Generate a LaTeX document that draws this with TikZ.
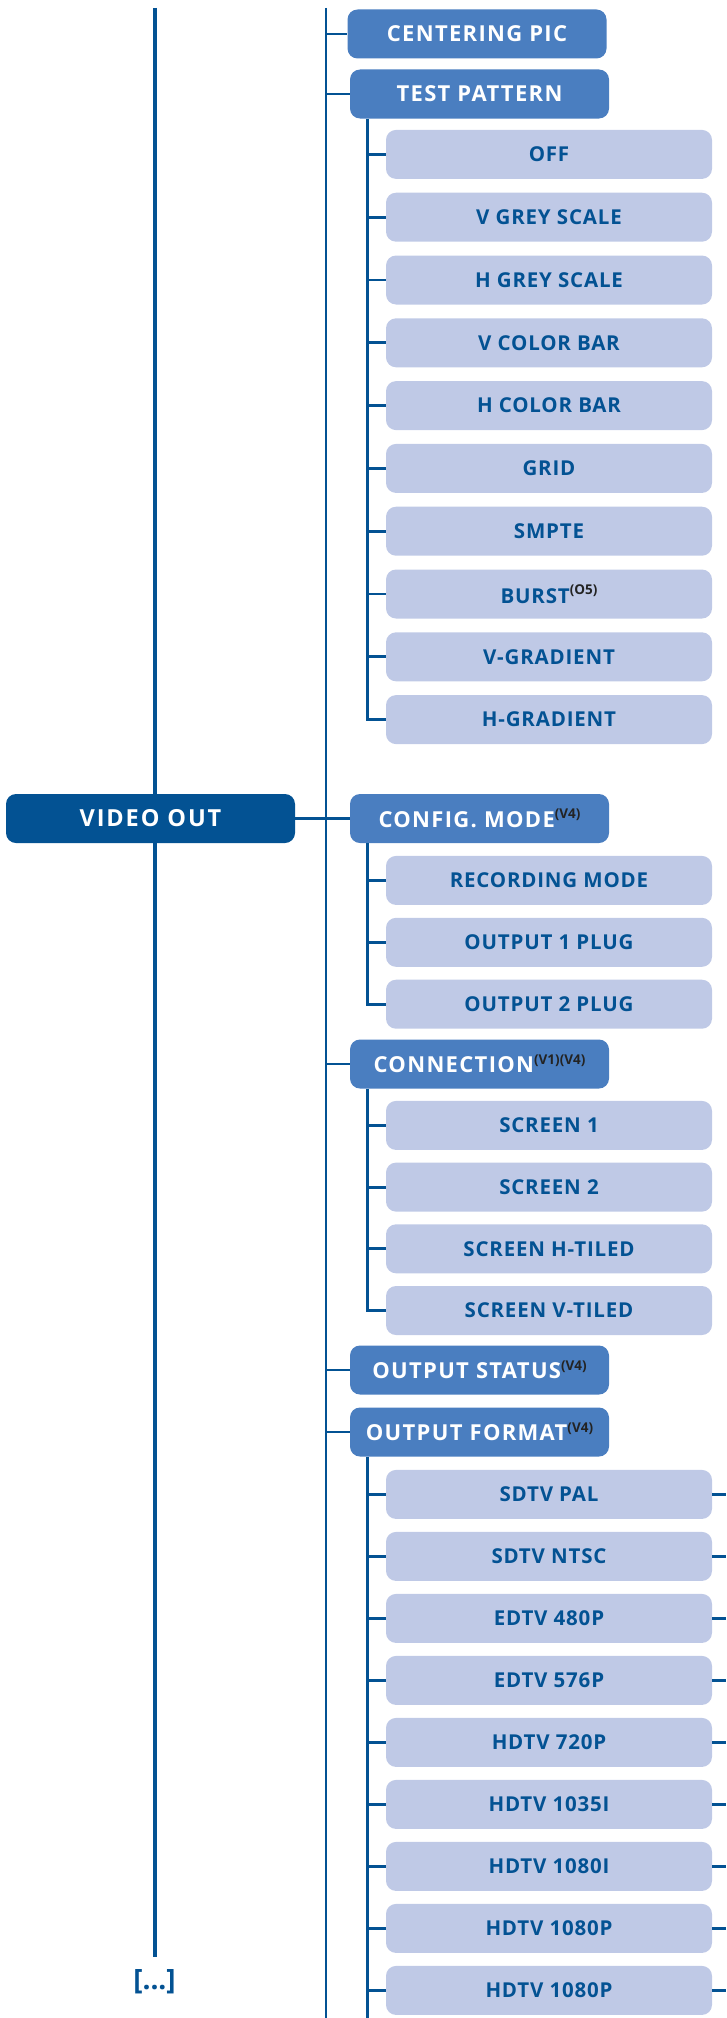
\documentclass[tikz,border=0pt]{standalone}
\usepackage{fontspec}
\setmainfont{Open Sans}
\newfontfamily\rootfont{Open Sans}[LetterSpace=8]
\newfontfamily\menufont{Open Sans}[LetterSpace=6]
\newfontfamily\optfont{Open Sans}[LetterSpace=4]
\usepackage{tikz}
\usetikzlibrary{positioning}
\definecolor{VideoBlue}{RGB}{3, 82, 147}
\definecolor{MenuBlue}{RGB}{74, 126, 192}
\definecolor{OptionBlue}{RGB}{191, 201, 230}
\definecolor{SupGrey}{RGB}{35, 35, 35}
\newcommand{\vsup}[1]{\raisebox{8.5pt}{\normalfont\bfseries\fontsize{13.5}{14}\selectfont\color{SupGrey}#1}}

\begin{document}
\begin{tikzpicture}[
    x=1pt, y=-1pt,
    rootbox/.style={rectangle, rounded corners=10pt, fill=VideoBlue, text=white,
                    minimum width=289pt, minimum height=49pt, inner sep=0pt,
                    font=\rootfont\bfseries\fontsize{23.5}{28}\selectfont},
    menubox/.style={rectangle, rounded corners=10pt, fill=MenuBlue, text=white,
                    minimum width=259pt, minimum height=49pt, inner sep=0pt,
                    font=\menufont\bfseries\fontsize{22}{26}\selectfont},
    optbox/.style={rectangle, rounded corners=10pt, fill=OptionBlue, text=VideoBlue,
                   minimum width=326pt, minimum height=49pt, inner sep=0pt,
                   font=\optfont\bfseries\fontsize{20.5}{24}\selectfont},
    trunk/.style={draw=VideoBlue, line width=4.5pt},
    link/.style={draw=VideoBlue, line width=2.8pt}
]
\useasboundingbox (0,0) rectangle (726,2018);

% Root
\node[rootbox] (videoout) at (150.5,818.5) {VIDEO OUT};
\coordinate (maintop) at (155,8);
\coordinate (mainbot) at (155,1957);
\node[text=VideoBlue, font=\bfseries\fontsize{28}{32}\selectfont] (more) at (154.5,1982) {[...]};

% Menu entries
\node[menubox] (centering) at (477,34) {CENTERING PIC};
\node[menubox] (testpat) at (479.5,94) {TEST PATTERN};
\node[menubox] (configmode) at (479.5,818.5) {CONFIG. MODE\vsup{(V4)}};
\node[menubox] (connection) at (479.5,1064) {CONNECTION\vsup{(V1)(V4)}};
\node[menubox] (outstatus) at (479.5,1370) {OUTPUT STATUS\vsup{(V4)}};
\node[menubox] (outformat) at (479.5,1432) {OUTPUT FORMAT\vsup{(V4)}};

% Test pattern options
\node[optbox, below=11pt of testpat.south west, anchor=north west, xshift=36pt] (off) {OFF};
\node[optbox, below=13.4pt of off] (vgrey) {V GREY SCALE};
\node[optbox, below=13.4pt of vgrey] (hgrey) {H GREY SCALE};
\node[optbox, below=13.4pt of hgrey] (vcolor) {V COLOR BAR};
\node[optbox, below=13.4pt of vcolor] (hcolor) {H COLOR BAR};
\node[optbox, below=13.4pt of hcolor] (grid) {GRID};
\node[optbox, below=13.4pt of grid] (smpte) {SMPTE};
\node[optbox, below=13.4pt of smpte] (burst) {BURST\vsup{(O5)}};
\node[optbox, below=13.4pt of burst] (vgrad) {V-GRADIENT};
\node[optbox, below=13.4pt of vgrad] (hgrad) {H-GRADIENT};

% Config mode options
\node[optbox, below=12.5pt of configmode.south west, anchor=north west, xshift=36pt] (recmode) {RECORDING MODE};
\node[optbox, below=12.5pt of recmode] (outplug1) {OUTPUT 1 PLUG};
\node[optbox, below=12.5pt of outplug1] (outplug2) {OUTPUT 2 PLUG};

% Connection options
\node[optbox, below=12pt of connection.south west, anchor=north west, xshift=36pt] (screen1) {SCREEN 1};
\node[optbox, below=12.3pt of screen1] (screen2) {SCREEN 2};
\node[optbox, below=12.3pt of screen2] (screenh) {SCREEN H-TILED};
\node[optbox, below=12.3pt of screenh] (screenv) {SCREEN V-TILED};

% Output format options
\node[optbox, below=13pt of outformat.south west, anchor=north west, xshift=36pt] (sdpal) {SDTV PAL};
\node[optbox, below=12.6pt of sdpal] (sdntsc) {SDTV NTSC};
\node[optbox, below=12.6pt of sdntsc] (ed480) {EDTV 480P};
\node[optbox, below=12.6pt of ed480] (ed576) {EDTV 576P};
\node[optbox, below=12.6pt of ed576] (hd720) {HDTV 720P};
\node[optbox, below=12.6pt of hd720] (hd1035) {HDTV 1035I};
\node[optbox, below=12.6pt of hd1035] (hd1080i) {HDTV 1080I};
\node[optbox, below=12.6pt of hd1080i] (hd1080p) {HDTV 1080P};
\node[optbox, below=12.6pt of hd1080p] (hd1080pb) {HDTV 1080P};

% Main line
\draw[trunk] (maintop) -- (maintop |- videoout.north);
\draw[trunk] (maintop |- videoout.south) -- (mainbot);

% Menu spine
\coordinate (spinetop) at (326,8);
\coordinate (spinebot) at (326,2018);
\draw[link] (spinetop) -- (spinebot);
\draw[link] (videoout) -- (configmode);
\draw[link] (spinetop |- centering) -- (centering);
\draw[link] (spinetop |- testpat) -- (testpat);
\draw[link] (spinetop |- connection) -- (connection);
\draw[link] (spinetop |- outstatus) -- (outstatus);
\draw[link] (spinetop |- outformat) -- (outformat);

% Test pattern branch
\draw[link] ([xshift=18pt]testpat.south west) coordinate (tpbranch) |- (hgrad);
\draw[link] (tpbranch |- off) -- (off);
\draw[link] (tpbranch |- vgrey) -- (vgrey);
\draw[link] (tpbranch |- hgrey) -- (hgrey);
\draw[link] (tpbranch |- vcolor) -- (vcolor);
\draw[link] (tpbranch |- hcolor) -- (hcolor);
\draw[link] (tpbranch |- grid) -- (grid);
\draw[link] (tpbranch |- smpte) -- (smpte);
\draw[link] (tpbranch |- burst) -- (burst);
\draw[link] (tpbranch |- vgrad) -- (vgrad);

% Config mode branch
\draw[link] ([xshift=18pt]configmode.south west) coordinate (cmbranch) |- (outplug2);
\draw[link] (cmbranch |- recmode) -- (recmode);
\draw[link] (cmbranch |- outplug1) -- (outplug1);

% Connection branch
\draw[link] ([xshift=18pt]connection.south west) coordinate (cnbranch) |- (screenv);
\draw[link] (cnbranch |- screen1) -- (screen1);
\draw[link] (cnbranch |- screen2) -- (screen2);
\draw[link] (cnbranch |- screenh) -- (screenh);

% Output format branch
\draw[link] ([xshift=18pt]outformat.south west) coordinate (fmbranch) -- (fmbranch |- spinebot);
\draw[link] (fmbranch |- sdpal) -- (sdpal);
\draw[link] (fmbranch |- sdntsc) -- (sdntsc);
\draw[link] (fmbranch |- ed480) -- (ed480);
\draw[link] (fmbranch |- ed576) -- (ed576);
\draw[link] (fmbranch |- hd720) -- (hd720);
\draw[link] (fmbranch |- hd1035) -- (hd1035);
\draw[link] (fmbranch |- hd1080i) -- (hd1080i);
\draw[link] (fmbranch |- hd1080p) -- (hd1080p);
\draw[link] (fmbranch |- hd1080pb) -- (hd1080pb);

% Right stubs
\coordinate (rightedge) at (726,0);
\draw[link] (sdpal) -- (sdpal -| rightedge);
\draw[link] (sdntsc) -- (sdntsc -| rightedge);
\draw[link] (ed480) -- (ed480 -| rightedge);
\draw[link] (ed576) -- (ed576 -| rightedge);
\draw[link] (hd720) -- (hd720 -| rightedge);
\draw[link] (hd1035) -- (hd1035 -| rightedge);
\draw[link] (hd1080i) -- (hd1080i -| rightedge);
\draw[link] (hd1080p) -- (hd1080p -| rightedge);
\draw[link] (hd1080pb) -- (hd1080pb -| rightedge);

\end{tikzpicture}
\end{document}
